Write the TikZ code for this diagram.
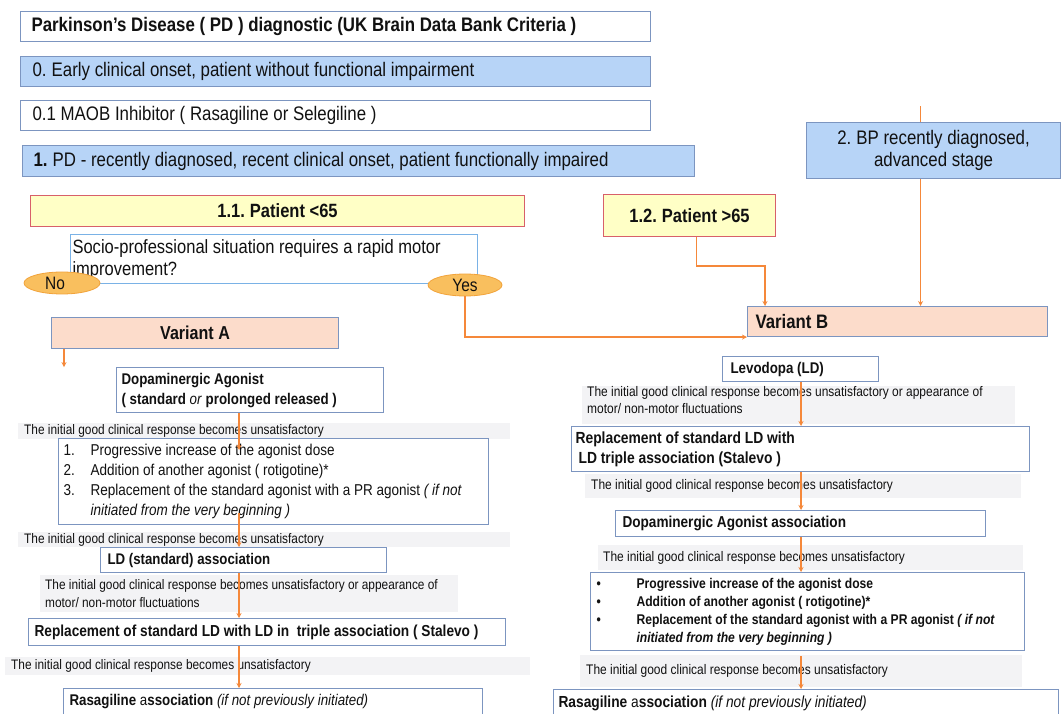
\documentclass[tikz,border=0pt]{standalone}
\usepackage{fontspec}
\setmainfont{Liberation Sans}[FakeStretch=0.86]
\usetikzlibrary{arrows.meta,shapes.geometric,calc}
\definecolor{bluefill}{HTML}{B7D4F7}
\definecolor{edgeblue}{HTML}{7C95C0}
\definecolor{qblue}{HTML}{7AB2E6}
\definecolor{yellowfill}{HTML}{FFFFC6}
\definecolor{rededge}{HTML}{D8606A}
\definecolor{salmon}{HTML}{FCDCCB}
\definecolor{orangeline}{HTML}{F5883A}
\definecolor{ellfill}{HTML}{F9BF5E}
\definecolor{elledge}{HTML}{F2A33A}
\definecolor{grayfill}{HTML}{F3F3F5}
\definecolor{textcol}{HTML}{111111}
\newcommand\fs[2]{\fontsize{#1}{#2}\selectfont}
\newcommand\bx[8]{\pgfmathsetmacro\bxtw{#4-2*#7}\node[#6, minimum height=#5pt, inner xsep=#7pt, text width=\bxtw pt] (#1) at (#2,#3) {\spaceskip=0.24em\relax\xspaceskip=0.26em\relax #8};}
\tikzset{
  box/.style={draw=edgeblue, line width=1.1pt, rectangle, inner ysep=0pt, align=left, anchor=north west, fill=white, text=textcol},
  bluebox/.style={box, fill=bluefill},
  yelbox/.style={box, fill=yellowfill, draw=rededge, align=center},
  salbox/.style={box, fill=salmon},
  qbox/.style={box, draw=qblue},
  glab/.style={rectangle, fill=grayfill, inner ysep=0pt, align=left, anchor=north west, text=textcol, font=\fs{13.9}{17}},
  ell/.style={ellipse, fill=ellfill, draw=elledge, line width=0.8pt, inner sep=0pt, minimum height=22pt, text=textcol, font=\fs{18}{20}},
  conn/.style={draw=orangeline, line width=1.4pt, -{Stealth[length=5pt,width=5pt]}},
  plain/.style={draw=orangeline, line width=1.4pt}
}
\begin{document}
\begin{tikzpicture}[x=1pt,y=-1pt]
\useasboundingbox[fill=white] (0,0) rectangle (1061,714);
\coordinate (cL) at (239,0);
\coordinate (cR) at (801,0);
% top boxes
\bx{title}{20}{11}{630}{30}{box, font=\fs{19.6}{22}\bfseries}{11}{Parkinson’s Disease ( PD ) diagnostic (UK Brain Data Bank Criteria )}
\bx{b0}{20}{56}{630}{30}{bluebox, font=\fs{19.6}{22}}{12}{0. Early clinical onset, patient without functional impairment}
\bx{b01}{20}{100}{630}{30}{box, font=\fs{19.6}{22}}{12}{0.1 MAOB Inhibitor ( Rasagiline or Selegiline )}
\bx{b1}{22}{145}{672}{31}{bluebox, font=\fs{19.6}{22}}{11}{\textbf{1.} PD - recently diagnosed, recent clinical onset, patient functionally impaired}
\bx{p11}{30}{195}{494}{31}{yelbox, font=\fs{19.2}{22}\bfseries}{5}{1.1. Patient <65}
\bx{q}{70}{234}{407}{49}{qbox, font=\fs{19.2}{22}}{2}{Socio-professional situation requires a rapid motor\\ improvement?}
\node[ell, minimum width=76pt] (no) at (62,283) {\hspace*{-14pt}No};
\node[ell, minimum width=74pt] (yes) at (465,285) {Yes};
\bx{varA}{51}{317}{287}{31}{salbox, align=center, font=\fs{18.7}{22}\bfseries}{5}{Variant A}
\bx{p12}{603}{194}{172}{42}{yelbox, font=\fs{19.2}{22}\bfseries}{5}{1.2. Patient >65}
\bx{bp}{806}{122}{254}{56}{bluebox, align=center, font=\fs{19.6}{22}}{5}{2. BP recently diagnosed,\\ advanced stage}
\bx{varB}{747}{306}{300}{30}{salbox, font=\fs{19.5}{22}\bfseries}{8}{Variant B}
% right column
\bx{levo}{722}{356}{156}{25}{box, font=\fs{15.5}{18}\bfseries}{8}{Levodopa (LD)}
\bx{g1}{582}{386}{433}{38}{glab}{5}{The initial good clinical response becomes unsatisfactory or appearance of\\ motor/ non-motor fluctuations\par\vspace{10pt}}
\bx{repR}{571}{426}{458}{45}{box, font=\fs{16.1}{20}\bfseries}{4}{Replacement of standard LD with\\ \hspace*{3pt}LD triple association (Stalevo )}
\bx{g2}{585}{474}{436}{24}{glab}{6}{The initial good clinical response becomes unsatisfactory}
\bx{dopaR}{615}{510}{370}{26}{box, font=\fs{15.8}{18}\bfseries}{7}{Dopaminergic Agonist association}
\bx{g3}{598}{545}{425}{25}{glab}{5}{The initial good clinical response becomes unsatisfactory}
\bx{listR}{590}{572}{434}{78}{box, font=\fs{14.1}{18}\bfseries}{6}{%
\makebox[40pt][l]{•}Progressive increase of the agonist dose\\
\makebox[40pt][l]{•}Addition of another agonist ( rotigotine)*\\
\makebox[40pt][l]{•}Replacement of the standard agonist with a PR agonist \textit{( if not}\\
\hspace*{40pt}\textit{initiated from the very beginning )}}
\bx{g4}{580}{655}{442}{32}{glab}{6}{The initial good clinical response becomes unsatisfactory}
\bx{rasR}{553}{689}{505}{28}{box, font=\fs{16}{18}}{5}{\textbf{Rasagiline} a\textbf{ssociation} \textit{(if not previously initiated)}}
% left column
\bx{dopaL}{116}{367}{267}{45}{box, font=\fs{15.5}{20}\bfseries}{5}{Dopaminergic Agonist\\ ( standard \textmd{\textit{or}} prolonged released )}
\bx{gL1}{18}{423}{492}{16}{glab, font=\fs{13.8}{16}}{6}{The initial good clinical response becomes unsatisfactory}
\bx{listL}{58}{438}{430}{86}{box, font=\fs{15.7}{20}}{5}{%
\makebox[27pt][l]{1.}Progressive increase of the agonist dose\\
\makebox[27pt][l]{2.}Addition of another agonist ( rotigotine)*\\
\makebox[27pt][l]{3.}Replacement of the standard agonist with a PR agonist \textit{( if not}\\
\hspace*{27pt}\textit{initiated from the very beginning )}}
\bx{gL2}{18}{532}{492}{15}{glab, font=\fs{13.8}{16}}{6}{The initial good clinical response becomes unsatisfactory}
\bx{ldL}{100}{547}{286}{25}{box, font=\fs{15.4}{18}\bfseries}{7}{LD (standard) association}
\bx{gL3}{40}{575}{418}{37}{glab, font=\fs{13.8}{18}}{5}{The initial good clinical response becomes unsatisfactory or appearance of\\ motor/ non-motor fluctuations}
\bx{repL}{28}{618}{477}{27}{box, font=\fs{15.9}{18}\bfseries}{6}{Replacement of standard LD with LD in \ triple association ( Stalevo )}
\bx{gL4}{5}{657}{525}{18}{glab, font=\fs{13.8}{16}}{6}{The initial good clinical response becomes unsatisfactory}
\bx{rasL}{63}{688}{419}{26}{box, font=\fs{15.5}{18}}{6}{\textbf{Rasagiline} a\textbf{ssociation} \textit{(if not previously initiated)}}
% connectors
\draw[conn] (yes.south) |- (varB.south west);
\draw[conn] ([xshift=7pt]p12.south) -- ++(0,29) -| ([xshift=18pt]varB.north west);
\draw[conn] ([xshift=-13pt]bp.south) -- ([xshift=-13pt]bp.south |- varB.north);
\draw[plain] ([xshift=-13pt]bp.north) -- ++(0,-16);
\draw[conn] ([xshift=13pt]varA.south west) -- ++(0,18);
\draw[conn] (levo.south -| cR) -- (repR.north -| cR);
\draw[conn] (repR.south -| cR) -- (dopaR.north -| cR);
\draw[conn] (dopaR.south -| cR) -- (listR.north -| cR);
\draw[conn] ($(listR.south -| cR)+(0,5)$) -- (rasR.north -| cR);
\draw[conn] (dopaL.south -| cL) -- ($(listL.north -| cL)+(0,12)$);
\draw[conn] ($(listL.south -| cL)+(0,-12)$) -- (ldL.north -| cL);
\draw[conn] (ldL.south -| cL) -- (repL.north -| cL);
\draw[conn] (repL.south -| cL) -- (rasL.north -| cL);
\end{tikzpicture}
\end{document}
